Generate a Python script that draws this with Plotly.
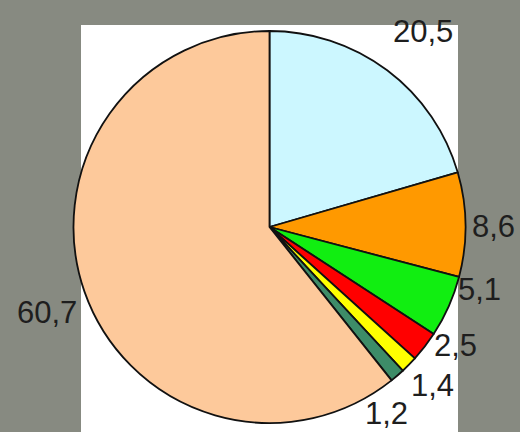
import plotly.graph_objects as go

W, H = 520, 432

values = [20.5, 8.6, 5.1, 2.5, 1.4, 1.2, 60.7]
colors = ["#ccf7ff", "#ff9900", "#11ee11", "#ff0000", "#ffff00", "#3d8c68", "#fdc99b"]
label_px = [(423, 31), (493, 227), (479, 289), (455, 345), (432, 385), (386, 413), (47, 312)]

def px(x, y):
    return x / W, 1 - y / H

cx, cy, r = 269.5, 227, 196
dx0, dy1 = px(cx - r, cy - r)
dx1, dy0 = px(cx + r, cy + r)

fig = go.Figure()
fig.add_trace(go.Pie(
    values=values,
    marker=dict(colors=colors, line=dict(color="#111111", width=1.8)),
    sort=False,
    direction="clockwise",
    rotation=0,
    textinfo="none",
    hoverinfo="value",
    showlegend=False,
    domain=dict(x=[dx0, dx1], y=[dy0, dy1]),
))

x0, y1 = px(81, 25)
x1, y0 = px(458, 432)
fig.add_shape(type="rect", xref="paper", yref="paper", x0=x0, x1=x1, y0=y0, y1=y1,
              fillcolor="white", line=dict(width=0), layer="below")

for v, (lx, ly) in zip(values, label_px):
    ax, ay = px(lx, ly)
    fig.add_annotation(x=ax, y=ay, xref="paper", yref="paper",
                       text=f"{v:.1f}".replace(".", ","), showarrow=False,
                       xanchor="center", yanchor="middle",
                       font=dict(family="Liberation Sans, Arial, sans-serif", size=31, color="#1e1e1e"))

fig.update_layout(
    width=W, height=H,
    margin=dict(l=0, r=0, t=0, b=0),
    paper_bgcolor="#878a81",
    plot_bgcolor="#878a81",
)

fig.write_html(
    "out.html",
    config={"displayModeBar": False},
    post_script="document.body.style.margin='0';document.body.style.padding='0';document.body.style.overflow='hidden';",
)
